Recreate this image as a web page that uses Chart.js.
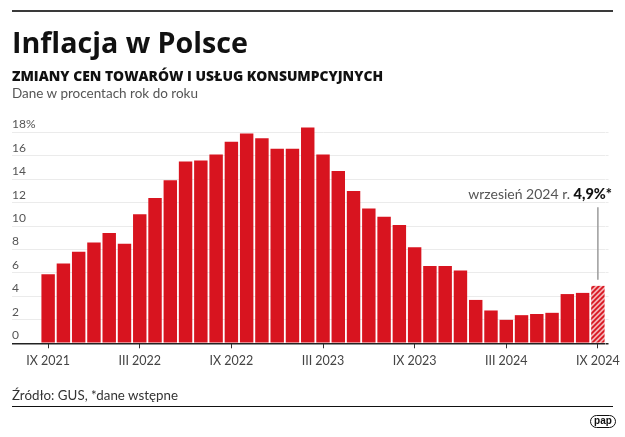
<!DOCTYPE html>
<html lang="pl">
<head>
<meta charset="utf-8">
<title>Inflacja w Polsce</title>
<script src="https://cdn.jsdelivr.net/npm/chart.js@4.4.1/dist/chart.umd.min.js"></script>
<style>
  html, body { margin: 0; padding: 0; background: #fff; }
  #page { position: relative; width: 625px; height: 437px; overflow: hidden; }
  #chart { position: absolute; left: 0; top: 0; }
  .txt { position: absolute; left: 12px; line-height: 1; white-space: nowrap; display: inline-block; transform-origin: 0 0; }
  .rule { position: absolute; left: 12px; width: 601px; background: #3a3a3a; }
  #title { top: 22.8px; font: 700 28px "Open Sans", sans-serif; color: #111; }
  #subtitle { top: 67.3px; font: 800 13.5px "Open Sans", sans-serif; color: #111; }
  #unit { top: 85.2px; font: 400 13px Lato, sans-serif; color: #555; }
  #source { top: 386.3px; font: 400 14px Lato, sans-serif; color: #333; }
  #logo { position: absolute; left: 590px; top: 415px; width: 24px; height: 11px; border: 1.5px solid #111;
          border-radius: 7px; font: 700 10px "Liberation Sans", Arial, sans-serif; line-height: 10px;
          text-align: center; color: #111; }
</style>
</head>
<body>
<div id="page">
  <canvas id="chart" width="625" height="437"></canvas>
  <div class="rule" style="top:10px;height:2px;"></div>
  <div class="txt" id="title" data-w="236">Inflacja w Polsce</div>
  <div class="txt" id="subtitle" data-w="371">ZMIANY CEN TOWARÓW I USŁUG KONSUMPCYJNYCH</div>
  <div class="txt" id="unit" data-w="186">Dane w procentach rok do roku</div>
  <div class="txt" id="source" data-w="166">Źródło: GUS, *dane wstępne</div>
  <div class="rule" style="top:405.5px;height:1.8px;background:#111;"></div>
  <div id="logo">pap</div>
</div>
<script>
// CPI, % r/r, IX 2021 - IX 2024 (last one preliminary)
const months = [
  "IX 2021", "X 2021", "XI 2021", "XII 2021",
  "I 2022", "II 2022", "III 2022", "IV 2022", "V 2022", "VI 2022",
  "VII 2022", "VIII 2022", "IX 2022", "X 2022", "XI 2022", "XII 2022",
  "I 2023", "II 2023", "III 2023", "IV 2023", "V 2023", "VI 2023",
  "VII 2023", "VIII 2023", "IX 2023", "X 2023", "XI 2023", "XII 2023",
  "I 2024", "II 2024", "III 2024", "IV 2024", "V 2024", "VI 2024",
  "VII 2024", "VIII 2024", "IX 2024",
];
const inflation = [
  5.9, 6.8, 7.8, 8.6,
  9.4, 8.5, 11.0, 12.4, 13.9, 15.5,
  15.6, 16.1, 17.2, 17.9, 17.5, 16.6,
  16.6, 18.4, 16.1, 14.7, 13.0, 11.5,
  10.8, 10.1, 8.2, 6.6, 6.6, 6.2,
  3.7, 2.8, 2.0, 2.4, 2.5, 2.6,
  4.2, 4.3, 4.9,
];
const preliminary = ["IX 2024"];
const xTickLabels = ["IX 2021", "III 2022", "IX 2022", "III 2023", "IX 2023", "III 2024", "IX 2024"];
const yTickValues = [0, 2, 4, 6, 8, 10, 12, 14, 16, 18];
const calloutText = "wrzesień 2024 r. ";

const RED = "#d8141f";

// stretch the html texts to the widths in the original
document.querySelectorAll(".txt").forEach((el) => {
  const w = el.getBoundingClientRect().width;
  el.style.transform = "scaleX(" + el.dataset.w / w + ")";
});

// hatched fill for the preliminary month
const pc = document.createElement("canvas");
pc.width = 5;
pc.height = 5;
const p = pc.getContext("2d");
p.fillStyle = "#f3b0b3";
p.fillRect(0, 0, 5, 5);
p.strokeStyle = RED;
p.lineWidth = 1.7;
p.beginPath();
p.moveTo(0, 5); p.lineTo(5, 0);
p.moveTo(-1, 1); p.lineTo(1, -1);
p.moveTo(4, 6); p.lineTo(6, 4);
p.stroke();

const canvas = document.getElementById("chart");
const hatch = canvas.getContext("2d").createPattern(pc, "repeat");

const yGridColor = (c) => (c.tick.value === 0 ? "#222" : "#ebebeb");
const yGridWidth = (c) => (c.tick.value === 0 ? 1.5 : 1);
const setYTicks = (s) => { s.ticks = yTickValues.map((v) => ({ value: v })); };

// callout over the last bar
const calloutPlugin = {
  id: "callout",
  afterDatasetsDraw(chart) {
    const ctx = chart.ctx;
    const y = chart.scales.y;
    const i = months.length - 1;
    const bar = chart.getDatasetMeta(0).data[i];
    const value = String(inflation[i]).replace(".", ",") + "%*";

    ctx.save();
    ctx.strokeStyle = "#9b9b9b";
    ctx.lineWidth = 1.5;
    ctx.beginPath();
    ctx.moveTo(bar.x, y.getPixelForValue(11.6));
    ctx.lineTo(bar.x, bar.y - 6);
    ctx.stroke();

    const right = 612;
    const base = y.getPixelForValue(12.3);
    ctx.textAlign = "left";
    ctx.textBaseline = "alphabetic";
    ctx.font = "900 14.5px Lato";
    const bw = ctx.measureText(value).width;
    ctx.fillStyle = "#111";
    ctx.fillText(value, right - bw, base);
    ctx.font = "400 14px Lato";
    const lw = ctx.measureText(calloutText).width;
    ctx.fillStyle = "#555";
    ctx.fillText(calloutText, right - bw - lw, base);
    ctx.restore();
  },
};

new Chart(canvas, {
  type: "bar",
  data: {
    labels: months,
    datasets: [
      {
        data: inflation,
        backgroundColor: (c) => (preliminary.includes(months[c.dataIndex]) ? hatch : RED),
        borderWidth: 0,
        categoryPercentage: 1,
        barPercentage: 0.88,
        clip: false,
      },
    ],
  },
  options: {
    responsive: false,
    animation: false,
    layout: { padding: { left: 12, right: 12.7, top: 132.3, bottom: 63.7 } },
    plugins: { legend: { display: false }, tooltip: { enabled: false } },
    scales: {
      x: {
        afterFit: (s) => { s.height = 30; },
        border: { display: false },
        grid: {
          offset: false,
          drawOnChartArea: false,
          tickLength: 5,
          color: (c) => (xTickLabels.includes(months[c.index]) ? "#333" : "rgba(0,0,0,0)"),
        },
        ticks: {
          autoSkip: false,
          maxRotation: 0,
          padding: 5,
          color: "#444",
          font: { family: "Lato", size: 12.5 },
          callback: (v, i) => (xTickLabels.includes(months[i]) ? months[i] : ""),
        },
      },
      y: {
        min: 0,
        max: 18,
        afterBuildTicks: setYTicks,
        afterFit: (s) => { s.width = 28.5; },
        border: { display: false },
        grid: { color: yGridColor, lineWidth: yGridWidth, tickLength: 28.5 },
        ticks: {
          crossAlign: "far",
          labelOffset: -8,
          padding: 0,
          color: "#555",
          font: { family: "Lato", size: 12 },
          callback: (v) => (v === 18 ? v + "%" : v),
        },
      },
      y2: {
        position: "right",
        min: 0,
        max: 18,
        afterBuildTicks: setYTicks,
        afterFit: (s) => { s.width = 3; },
        border: { display: false },
        grid: { drawOnChartArea: false, color: yGridColor, lineWidth: yGridWidth, tickLength: 3 },
        ticks: { display: false },
      },
    },
  },
  plugins: [calloutPlugin],
});
</script>
</body>
</html>
